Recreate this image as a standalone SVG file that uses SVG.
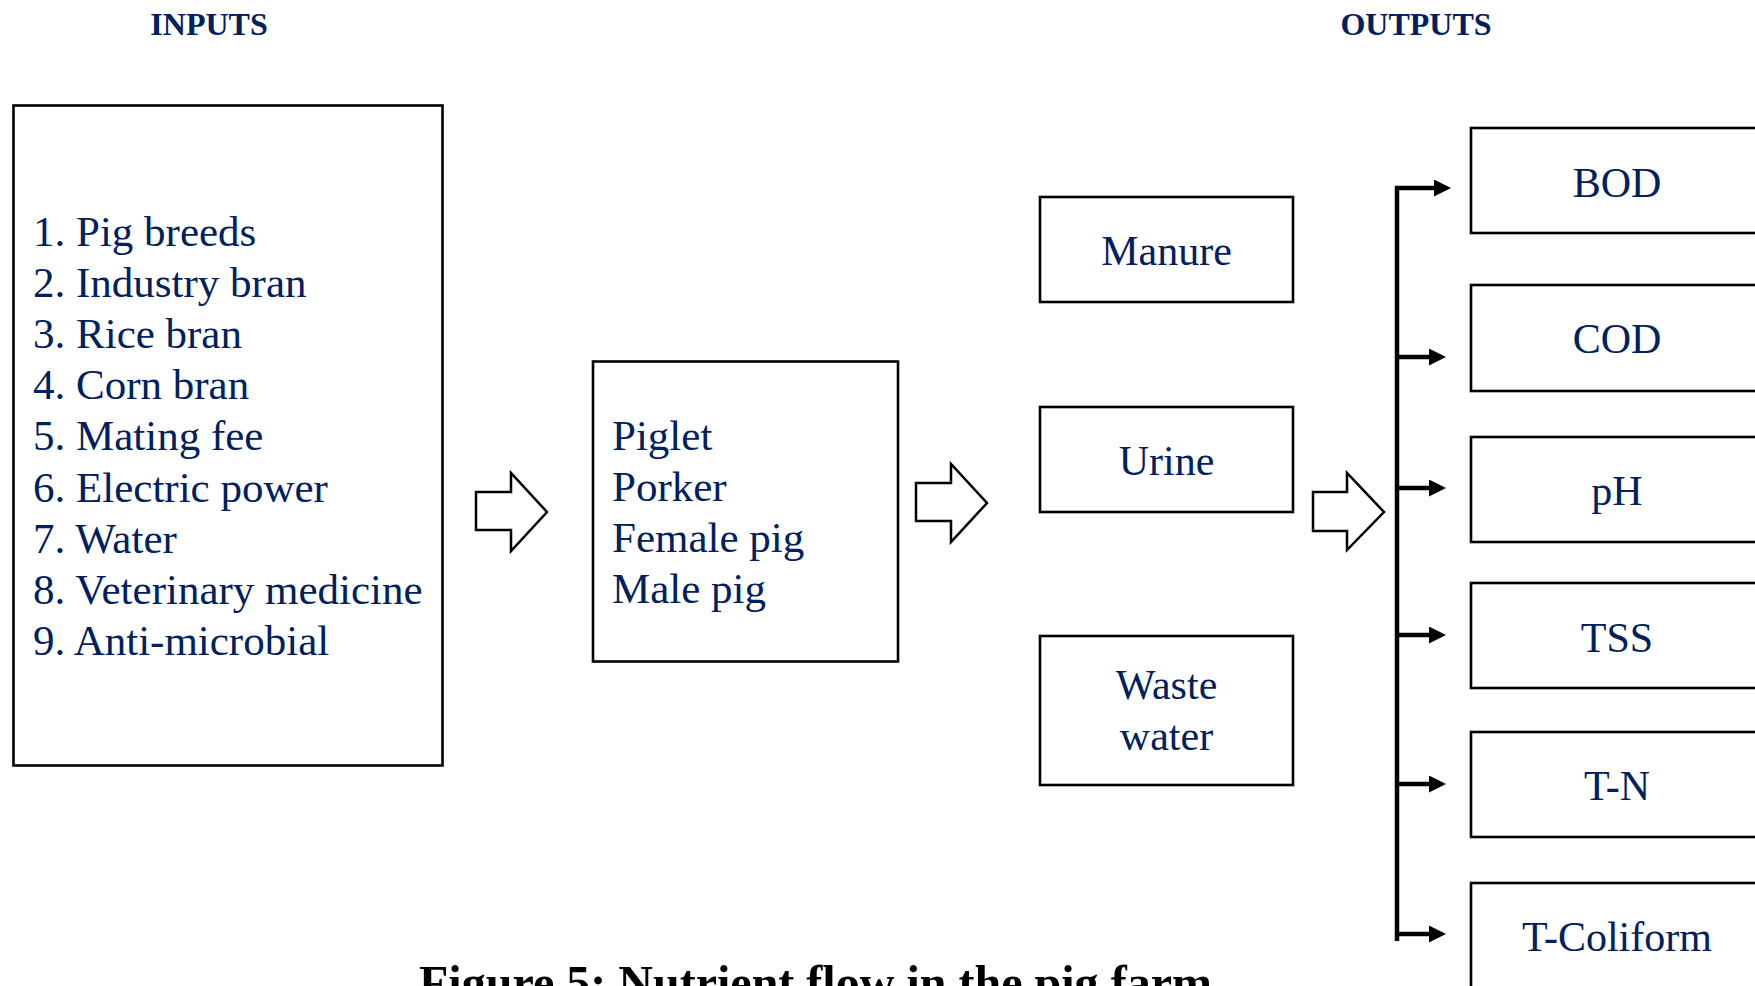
<svg xmlns="http://www.w3.org/2000/svg" width="1755" height="986" viewBox="0 0 1755 986">
  <defs>
    <style>
      .box { fill: #ffffff; stroke: #000000; stroke-width: 2.6; }
      .blk { fill: #ffffff; stroke: #000000; stroke-width: 2.5; stroke-linejoin: miter; }
      .txt { font-family: "Liberation Serif", "Times New Roman", serif; font-size: 42px; fill: #002060; }
      .lst { font-size: 43px; }
      .mid { text-anchor: middle; }
      .head { font-family: "Liberation Serif", "Times New Roman", serif; font-size: 32px; font-weight: bold; fill: #002060; text-anchor: middle; }
      .cap { font-family: "Liberation Serif", "Times New Roman", serif; font-size: 48px; font-weight: bold; fill: #000000; }
      .bus { fill: none; stroke: #000000; stroke-width: 4.5; stroke-linejoin: miter; }
    </style>
    <marker id="ah" markerUnits="userSpaceOnUse" markerWidth="17" markerHeight="17" viewBox="0 0 17 17" refX="0" refY="8.5" orient="auto">
      <path d="M0,0 L17,8.5 L0,17 Z" fill="#000000"/>
    </marker>
  </defs>
  <rect width="1755" height="986" fill="#ffffff"/>

  <text class="head" x="209" y="35">INPUTS</text>
  <text class="head" x="1416" y="35">OUTPUTS</text>

  <g id="inputs">
    <rect class="box" x="13.5" y="105.5" width="429" height="660"/>
    <text class="txt lst">
      <tspan x="33" y="246">1. Pig breeds</tspan>
      <tspan x="33" y="297">2. Industry bran</tspan>
      <tspan x="33" y="348">3. Rice bran</tspan>
      <tspan x="33" y="399">4. Corn bran</tspan>
      <tspan x="33" y="450">5. Mating fee</tspan>
      <tspan x="33" y="502">6. Electric power</tspan>
      <tspan x="33" y="553">7. Water</tspan>
      <tspan x="33" y="604">8. Veterinary medicine</tspan>
      <tspan x="33" y="655">9. Anti-microbial</tspan>
    </text>
  </g>

  <g id="pigs">
    <rect class="box" x="593" y="361.5" width="305" height="300"/>
    <text class="txt lst">
      <tspan x="612" y="450">Piglet</tspan>
      <tspan x="612" y="501">Porker</tspan>
      <tspan x="612" y="552">Female pig</tspan>
      <tspan x="612" y="603">Male pig</tspan>
    </text>
  </g>

  <g id="manure">
    <rect class="box" x="1040" y="197" width="253" height="105"/>
    <text class="txt mid" x="1166.5" y="265">Manure</text>
  </g>
  <g id="urine">
    <rect class="box" x="1040" y="407" width="253" height="105"/>
    <text class="txt mid" x="1166.5" y="475">Urine</text>
  </g>
  <g id="wastewater">
    <rect class="box" x="1040" y="636" width="253" height="149"/>
    <text class="txt mid" x="1166.5" y="699">Waste</text>
    <text class="txt mid" x="1166.5" y="750">water</text>
  </g>

  <g id="bod">
    <rect class="box" x="1471" y="128" width="292" height="105"/>
    <text class="txt mid" x="1617" y="197">BOD</text>
  </g>
  <g id="cod">
    <rect class="box" x="1471" y="285" width="292" height="106"/>
    <text class="txt mid" x="1617" y="353">COD</text>
  </g>
  <g id="ph">
    <rect class="box" x="1471" y="437" width="292" height="105"/>
    <text class="txt mid" x="1617" y="505">pH</text>
  </g>
  <g id="tss">
    <rect class="box" x="1471" y="583" width="292" height="105"/>
    <text class="txt mid" x="1617" y="652">TSS</text>
  </g>
  <g id="tn">
    <rect class="box" x="1471" y="732" width="292" height="105"/>
    <text class="txt mid" x="1617" y="800">T-N</text>
  </g>
  <g id="tcoliform">
    <rect class="box" x="1471" y="883" width="292" height="120"/>
    <text class="txt mid" x="1617" y="951">T-Coliform</text>
  </g>

  <g id="connectors">
    <polygon class="blk" points="476,492 511,492 511,473 547,512 511,551 511,530 476,530"/>
    <polygon class="blk" points="916,483 951,483 951,464 987,503 951,542 951,521 916,521"/>
    <polygon class="blk" points="1313,492 1347,492 1347,473 1384,512 1347,550 1347,531 1313,531"/>
    <path class="bus" d="M1397,941 V188 H1434" marker-end="url(#ah)"/>
    <line class="bus" x1="1397" y1="357" x2="1429" y2="357" marker-end="url(#ah)"/>
    <line class="bus" x1="1397" y1="488" x2="1429" y2="488" marker-end="url(#ah)"/>
    <line class="bus" x1="1397" y1="635" x2="1429" y2="635" marker-end="url(#ah)"/>
    <line class="bus" x1="1397" y1="784" x2="1429" y2="784" marker-end="url(#ah)"/>
    <line class="bus" x1="1397" y1="934" x2="1429" y2="934" marker-end="url(#ah)"/>
  </g>

  <text class="cap" x="419" y="999" textLength="793" lengthAdjust="spacingAndGlyphs">Figure 5: Nutrient flow in the pig farm</text>
</svg>
